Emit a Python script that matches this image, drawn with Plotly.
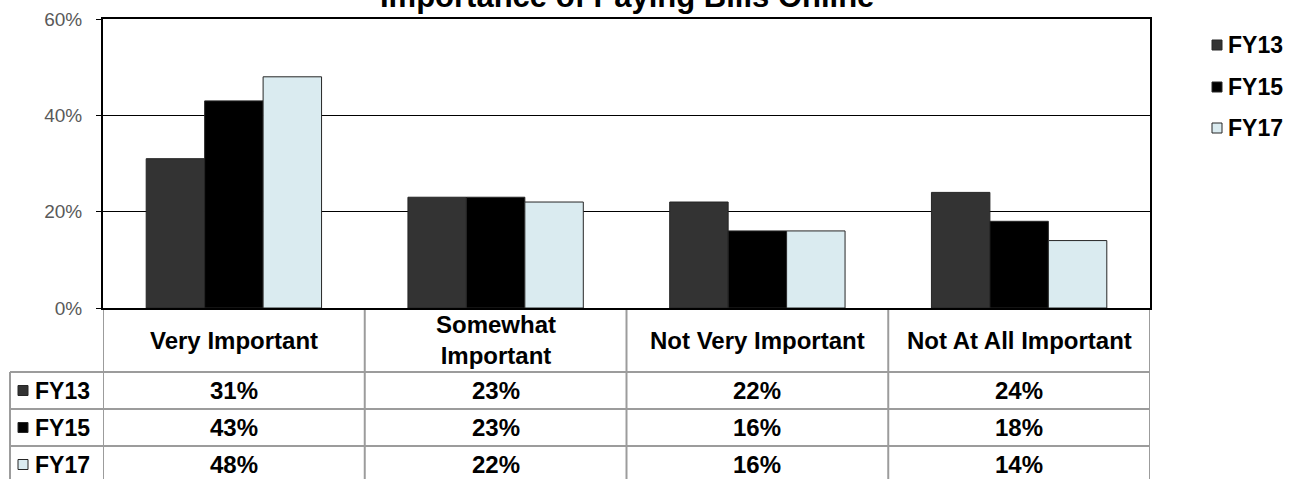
import plotly.graph_objects as go

# Survey answers and the share of respondents per fiscal year
categories = ["Very Important", "Somewhat Important", "Not Very Important", "Not At All Important"]
header_labels = ["Very Important", "Somewhat<br>Important", "Not Very Important", "Not At All Important"]
series_names = ["FY13", "FY15", "FY17"]
fy13 = [0.31, 0.23, 0.22, 0.24]
fy15 = [0.43, 0.23, 0.16, 0.18]
fy17 = [0.48, 0.22, 0.16, 0.14]
series_values = [fy13, fy15, fy17]
y_ticks = [0, 0.2, 0.4, 0.6]

colors = ["#333333", "#000000", "#DAEBF0"]
FONT = "Liberation Sans, Arial, sans-serif"
GRID_GRAY = "#9c9c9c"

W, H = 1297, 479
L, R, T, B = 103, 147, 19, 171
PW, PH = W - L - R, H - T - B


def px_x(p):
    return (p - L) / PW


def px_y(p):
    return (H - B - p) / PH


fig = go.Figure()
for i, (name, vals) in enumerate(zip(series_names, series_values)):
    fig.add_trace(go.Bar(
        x=categories, y=vals, name=name,
        marker=dict(color=colors[i], line=dict(color="#262626", width=1)),
        showlegend=False,
        hoverinfo="skip",
    ))

shapes = []
annotations = []
bold = dict(family=FONT, color="#000000", weight="bold")

# data table under the plot: row geometry in pixels
header_top, header_bot = 308, 372
row_h = 37
row_tops = [header_bot + k * row_h for k in range(len(series_names))]
table_bottom = row_tops[-1] + row_h
left_edge = 10
line = dict(color=GRID_GRAY, width=2)

# vertical separators at category boundaries
for k in range(len(categories) + 1):
    shapes.append(dict(type="line", xref="x", yref="paper",
                       x0=k - 0.5, x1=k - 0.5,
                       y0=px_y(header_top), y1=px_y(table_bottom + 5), line=line, layer="below"))
# left edge of the row-label column
shapes.append(dict(type="line", xref="paper", yref="paper",
                   x0=px_x(left_edge), x1=px_x(left_edge),
                   y0=px_y(header_bot), y1=px_y(table_bottom + 5), line=line))
# horizontal row lines
for k in range(len(series_names) + 1):
    yy = px_y(header_bot + k * row_h)
    shapes.append(dict(type="line", xref="paper", yref="paper",
                       x0=px_x(left_edge), x1=1, y0=yy, y1=yy, line=line))

# header cells
for cat, lab in zip(categories, header_labels):
    annotations.append(dict(x=cat, xref="x", y=px_y((header_top + header_bot) / 2), yref="paper",
                            text=lab, showarrow=False, xanchor="center", yanchor="middle",
                            font=dict(size=24, **bold)))

# value rows
for i, (name, vals) in enumerate(zip(series_names, series_values)):
    yc = px_y(row_tops[i] + row_h / 2)
    for cat, v in zip(categories, vals):
        annotations.append(dict(x=cat, xref="x", y=yc, yref="paper",
                                text=f"{v:.0%}", showarrow=False,
                                xanchor="center", yanchor="middle",
                                font=dict(size=24, **bold)))
    # row label with key swatch
    shapes.append(dict(type="rect", xref="paper", yref="paper",
                       xsizemode="pixel", ysizemode="pixel",
                       xanchor=px_x(18), yanchor=yc,
                       x0=0, x1=10, y0=-5, y1=5,
                       fillcolor=colors[i], line=dict(color="#262626", width=1)))
    annotations.append(dict(x=px_x(33), xref="paper", y=yc, yref="paper",
                            text=name, showarrow=False, xanchor="left", yanchor="middle",
                            font=dict(size=23, **bold)))

# key on the right
legend_rows = [45, 87, 128]
for i, name in enumerate(series_names):
    yc = px_y(legend_rows[i])
    shapes.append(dict(type="rect", xref="paper", yref="paper",
                       xsizemode="pixel", ysizemode="pixel",
                       xanchor=px_x(1212), yanchor=yc,
                       x0=0, x1=10, y0=-5, y1=5,
                       fillcolor=colors[i], line=dict(color="#262626", width=1)))
    annotations.append(dict(x=px_x(1226), xref="paper", y=yc, yref="paper",
                            text=name, showarrow=False, xanchor="left", yanchor="middle",
                            font=dict(size=23, **bold)))

# chart title, sitting at the very top edge
annotations.append(dict(x=0.5, xref="paper", y=px_y(-3), yref="paper",
                        text="Importance of Paying Bills Online", showarrow=False,
                        xanchor="center", yanchor="middle",
                        font=dict(size=31, **bold)))

fig.update_layout(
    width=W, height=H,
    margin=dict(l=L, r=R, t=T, b=B, autoexpand=False),
    paper_bgcolor="white", plot_bgcolor="white",
    barmode="group", bargap=0.33, bargroupgap=0,
    showlegend=False,
    xaxis=dict(range=[-0.5, len(categories) - 0.5], showticklabels=False, ticks="",
               showline=True, linecolor="#000000", linewidth=2, mirror=True,
               showgrid=False, zeroline=False, fixedrange=True),
    yaxis=dict(range=[0, 0.6], tickvals=y_ticks, tickformat=".0%",
               showline=True, linecolor="#000000", linewidth=2, mirror=True,
               ticks="outside", ticklen=5, tickcolor="#000000", tickwidth=1,
               ticklabelstandoff=10,
               showgrid=True, gridcolor="#000000", gridwidth=1, zeroline=False,
               tickfont=dict(family=FONT, size=19, color="#595959"), fixedrange=True),
    shapes=shapes,
    annotations=annotations,
    font=dict(family=FONT),
)

fig.write_html("out.html", config={"displayModeBar": False})
